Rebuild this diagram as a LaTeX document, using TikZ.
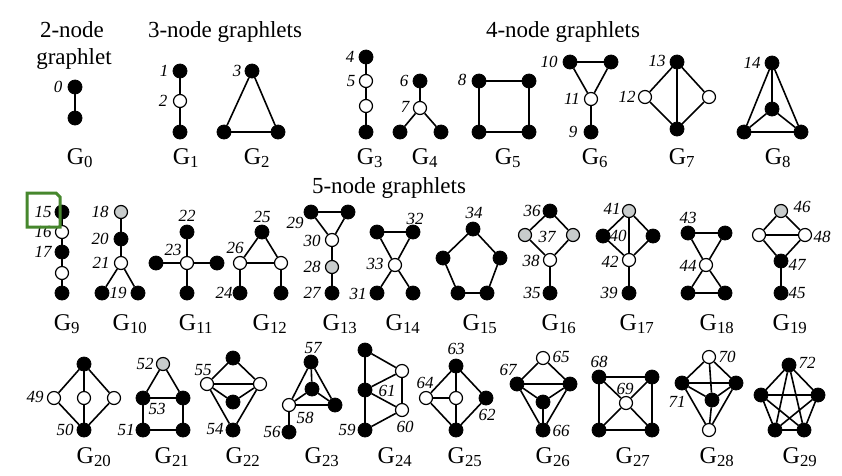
\documentclass[tikz,border=0pt]{standalone}
\usepackage{fontspec}
\setmainfont{Liberation Serif}
\definecolor{greyfill}{RGB}{200,204,204}
\definecolor{boxgreen}{RGB}{70,135,45}
\newcommand{\gsub}[1]{G\textsubscript{#1}}
\begin{document}
\begin{tikzpicture}[x=1pt,y=-1pt,
 vb/.style={circle, fill=black, draw=black, line width=0.8pt, minimum size=14pt, inner sep=0pt},
 vw/.style={circle, fill=white, draw=black, line width=1.2pt, minimum size=13pt, inner sep=0pt},
 vg/.style={circle, fill=greyfill, draw=black, line width=1.2pt, minimum size=13pt, inner sep=0pt},
 ed/.style={line width=1.6pt},
 lab/.style={font=\fontsize{17}{17}\selectfont\itshape, inner sep=0pt},
 glab/.style={font=\fontsize{24}{24}\selectfont, inner sep=0pt, anchor=base},
 ttl/.style={font=\fontsize{23}{23}\selectfont, inner sep=0pt, anchor=base}]
\useasboundingbox[fill=white] (0,0) rectangle (842,475);

% titles
\node[ttl] (t2a) at (72,37) {2-node};
\node[ttl] (t2b) at (74,64) {graphlet};
\node[ttl] (t3) at (225,37) {3-node graphlets};
\node[ttl] (t4) at (563,37) {4-node graphlets};
\node[ttl] (t5) at (389,193) {5-node graphlets};

% ---------- G0
\node[vb] (n0a) at (75,87) {}; \node[vb] (n0b) at (75,118) {};
\node[lab] (o0) at (58,87) {0};
% ---------- G1
\node[vb] (n1a) at (180,71) {}; \node[vw] (n1b) at (180,101) {}; \node[vb] (n1c) at (180,132) {};
\node[lab] (o1) at (164,71) {1}; \node[lab] (o2) at (163,101) {2};
% ---------- G2
\node[vb] (n2a) at (252,71) {}; \node[vb] (n2b) at (224,132) {}; \node[vb] (n2c) at (278,132) {};
\node[lab] (o3) at (237,71) {3};
% ---------- G3
\node[vb] (n3a) at (366,57) {}; \node[vw] (n3b) at (366,81) {}; \node[vw] (n3c) at (366,106) {}; \node[vb] (n3d) at (366,132) {};
\node[lab] (o4) at (350,57) {4}; \node[lab] (o5) at (351,81) {5};
% ---------- G4
\node[vb] (n4a) at (420,81) {}; \node[vw] (n4b) at (420,108) {}; \node[vb] (n4c) at (400,132) {}; \node[vb] (n4d) at (441,132) {};
\node[lab] (o6) at (404,81) {6}; \node[lab] (o7) at (405,107) {7};
% ---------- G5
\node[vb] (n5a) at (479,81) {}; \node[vb] (n5b) at (529,81) {}; \node[vb] (n5c) at (529,132) {}; \node[vb] (n5d) at (479,132) {};
\node[lab] (o8) at (462,80) {8};
% ---------- G6
\node[vb] (n6a) at (570,62) {}; \node[vb] (n6b) at (611,62) {}; \node[vw] (n6c) at (591,99) {}; \node[vb] (n6d) at (591,132) {};
\node[lab] (o10) at (549,62) {10}; \node[lab] (o11) at (572,99) {11}; \node[lab] (o9) at (573,132) {9};
% ---------- G7
\node[vb] (n7a) at (677,62) {}; \node[vw] (n7b) at (645,97) {}; \node[vw] (n7c) at (709,97) {}; \node[vb] (n7d) at (677,129) {};
\node[lab] (o13) at (657,61) {13}; \node[lab] (o12) at (627,97) {12};
% ---------- G8
\node[vb] (n8a) at (772,63) {}; \node[vb] (n8b) at (772,109) {}; \node[vb] (n8c) at (744,132) {}; \node[vb] (n8d) at (801,132) {};
\node[lab] (o14) at (752,63) {14};

% ---------- G9
\node[vb] (n9a) at (62,212) {}; \node[vw] (n9b) at (62,232) {}; \node[vb] (n9c) at (62,252) {}; \node[vw] (n9d) at (62,273) {}; \node[vb] (n9e) at (62,293) {};
\node[lab] (o15) at (43,212) {15}; \node[lab] (o16) at (43,232) {16}; \node[lab] (o17) at (43,252) {17};
% ---------- G10
\node[vg] (n10a) at (121,212) {}; \node[vb] (n10b) at (121,239) {}; \node[vw] (n10c) at (121,263) {}; \node[vb] (n10d) at (102,293) {}; \node[vb] (n10e) at (138,293) {};
\node[lab] (o18) at (100,212) {18}; \node[lab] (o20) at (100,239) {20}; \node[lab] (o21) at (101,263) {21}; \node[lab] (o19) at (118,293) {19};
% ---------- G11
\node[vb] (n11a) at (187,232) {}; \node[vw] (n11b) at (187,263) {}; \node[vb] (n11c) at (156,263) {}; \node[vb] (n11d) at (217,263) {}; \node[vb] (n11e) at (187,293) {};
\node[lab] (o22) at (187,216) {22}; \node[lab] (o23) at (173,250) {23};
% ---------- G12
\node[vb] (n12a) at (262,232) {}; \node[vw] (n12b) at (240,263) {}; \node[vw] (n12c) at (281,263) {}; \node[vb] (n12d) at (240,293) {}; \node[vb] (n12e) at (281,293) {};
\node[lab] (o25) at (262,217) {25}; \node[lab] (o26) at (235,248) {26}; \node[lab] (o24) at (224,293) {24};
% ---------- G13
\node[vb] (n13a) at (311,212) {}; \node[vb] (n13b) at (348,212) {}; \node[vw] (n13c) at (332,240) {}; \node[vg] (n13d) at (332,267) {}; \node[vb] (n13e) at (332,293) {};
\node[lab] (o29) at (295,223) {29}; \node[lab] (o30) at (312,241) {30}; \node[lab] (o28) at (312,267) {28}; \node[lab] (o27) at (312,293) {27};
% ---------- G14
\node[vb] (n14a) at (377,232) {}; \node[vb] (n14b) at (413,232) {}; \node[vw] (n14c) at (395,265) {}; \node[vb] (n14d) at (377,293) {}; \node[vb] (n14e) at (413,293) {};
\node[lab] (o32) at (415,219) {32}; \node[lab] (o33) at (375,264) {33}; \node[lab] (o31) at (358,294) {31};
% ---------- G15
\node[vb] (n15a) at (473,229) {}; \node[vb] (n15b) at (500,258) {}; \node[vb] (n15c) at (487,293) {}; \node[vb] (n15d) at (458,293) {}; \node[vb] (n15e) at (443,258) {};
\node[lab] (o34) at (474,213) {34};
% ---------- G16
\node[vb] (n16a) at (550,211) {}; \node[vg] (n16b) at (525,235) {}; \node[vg] (n16c) at (573,235) {}; \node[vw] (n16d) at (550,260) {}; \node[vb] (n16e) at (550,293) {};
\node[lab] (o36) at (532,211) {36}; \node[lab] (o37) at (547,237) {37}; \node[lab] (o38) at (531,261) {38}; \node[lab] (o35) at (532,293) {35};
% ---------- G17
\node[vg] (n17a) at (629,211) {}; \node[vb] (n17b) at (603,236) {}; \node[vb] (n17c) at (653,236) {}; \node[vw] (n17d) at (629,260) {}; \node[vb] (n17e) at (629,293) {};
\node[lab] (o41) at (612,209) {41}; \node[lab] (o40) at (618,236) {40}; \node[lab] (o42) at (610,262) {42}; \node[lab] (o39) at (609,293) {39};
% ---------- G18
\node[vb] (n18a) at (688,233) {}; \node[vb] (n18b) at (725,233) {}; \node[vw] (n18c) at (706,265) {}; \node[vb] (n18d) at (688,293) {}; \node[vb] (n18e) at (725,293) {};
\node[lab] (o43) at (688,218) {43}; \node[lab] (o44) at (688,266) {44};
% ---------- G19
\node[vg] (n19a) at (781,211) {}; \node[vw] (n19b) at (759,235) {}; \node[vw] (n19c) at (805,235) {}; \node[vb] (n19d) at (781,261) {}; \node[vb] (n19e) at (781,293) {};
\node[lab] (o46) at (802,207) {46}; \node[lab] (o48) at (822,237) {48}; \node[lab] (o47) at (797,265) {47}; \node[lab] (o45) at (797,293) {45};

% ---------- G20
\node[vb] (n20a) at (84,364) {}; \node[vw] (n20b) at (54,398) {}; \node[vw] (n20c) at (84,398) {}; \node[vw] (n20d) at (114,398) {}; \node[vb] (n20e) at (84,430) {};
\node[lab] (o49) at (35,397) {49}; \node[lab] (o50) at (65,430) {50};
% ---------- G21
\node[vg] (n21a) at (163,364) {}; \node[vb] (n21b) at (143,398) {}; \node[vb] (n21c) at (183,398) {}; \node[vb] (n21d) at (143,430) {}; \node[vb] (n21e) at (183,430) {};
\node[lab] (o52) at (145,364) {52}; \node[lab] (o53) at (157,409) {53}; \node[lab] (o51) at (126,430) {51};
% ---------- G22
\node[vb] (n22a) at (233,358) {}; \node[vw] (n22b) at (207,384) {}; \node[vw] (n22c) at (260,384) {}; \node[vb] (n22d) at (233,402) {}; \node[vb] (n22e) at (233,430) {};
\node[lab] (o55) at (203,370) {55}; \node[lab] (o54) at (215,429) {54};
% ---------- G23
\node[vb] (n23a) at (311,362) {}; \node[vb] (n23b) at (312,389) {}; \node[vw] (n23c) at (289,405) {}; \node[vb] (n23d) at (335,405) {}; \node[vb] (n23e) at (289,432) {};
\node[lab] (o57) at (313,348) {57}; \node[lab] (o58) at (305,418) {58}; \node[lab] (o56) at (272,432) {56};
% ---------- G24
\node[vb] (n24a) at (365,350) {}; \node[vb] (n24b) at (365,390) {}; \node[vb] (n24c) at (365,430) {}; \node[vw] (n24d) at (402,371) {}; \node[vw] (n24e) at (402,410) {};
\node[lab] (o61) at (387,391) {61}; \node[lab] (o59) at (347,430) {59}; \node[lab] (o60) at (405,427) {60};
% ---------- G25
\node[vb] (n25a) at (456,366) {}; \node[vw] (n25b) at (426,398) {}; \node[vw] (n25c) at (456,398) {}; \node[vb] (n25d) at (486,398) {}; \node[vb] (n25e) at (456,430) {};
\node[lab] (o63) at (456,349) {63}; \node[lab] (o64) at (425,383) {64}; \node[lab] (o62) at (487,415) {62};
% ---------- G26
\node[vw] (n26a) at (543,358) {}; \node[vb] (n26b) at (517,384) {}; \node[vb] (n26c) at (570,384) {}; \node[vb] (n26d) at (543,402) {}; \node[vb] (n26e) at (543,430) {};
\node[lab] (o65) at (561,357) {65}; \node[lab] (o67) at (508,370) {67}; \node[lab] (o66) at (561,431) {66};
% ---------- G27
\node[vb] (n27a) at (599,377) {}; \node[vb] (n27b) at (652,377) {}; \node[vb] (n27c) at (652,430) {}; \node[vb] (n27d) at (599,430) {}; \node[vw] (n27e) at (626,403) {};
\node[lab] (o68) at (599,362) {68}; \node[lab] (o69) at (625,389) {69};
% ---------- G28
\node[vw] (n28a) at (709,357) {}; \node[vb] (n28b) at (682,383) {}; \node[vb] (n28c) at (736,383) {}; \node[vb] (n28d) at (712,400) {}; \node[vw] (n28e) at (709,430) {};
\node[lab] (o70) at (727,357) {70}; \node[lab] (o71) at (677,402) {71};
% ---------- G29
\node[vb] (n29a) at (789,365) {}; \node[vb] (n29b) at (818,395) {}; \node[vb] (n29c) at (804,430) {}; \node[vb] (n29d) at (775,430) {}; \node[vb] (n29e) at (761,395) {};
\node[lab] (o72) at (807,363) {72};

% edges
\foreach \a/\b in {n0a/n0b, n1a/n1b, n1b/n1c, n2a/n2b, n2b/n2c, n2c/n2a,
 n3a/n3b, n3b/n3c, n3c/n3d, n4a/n4b, n4b/n4c, n4b/n4d,
 n5a/n5b, n5b/n5c, n5c/n5d, n5d/n5a,
 n6a/n6b, n6a/n6c, n6b/n6c, n6c/n6d,
 n7a/n7b, n7a/n7c, n7a/n7d, n7b/n7d, n7c/n7d,
 n8a/n8b, n8a/n8c, n8a/n8d, n8b/n8c, n8b/n8d, n8c/n8d,
 n9a/n9b, n9b/n9c, n9c/n9d, n9d/n9e,
 n10a/n10b, n10b/n10c, n10c/n10d, n10c/n10e,
 n11a/n11b, n11b/n11c, n11b/n11d, n11b/n11e,
 n12a/n12b, n12a/n12c, n12b/n12c, n12b/n12d, n12c/n12e,
 n13a/n13b, n13a/n13c, n13b/n13c, n13c/n13d, n13d/n13e,
 n14a/n14b, n14a/n14c, n14b/n14c, n14c/n14d, n14c/n14e,
 n15a/n15b, n15b/n15c, n15c/n15d, n15d/n15e, n15e/n15a,
 n16a/n16b, n16a/n16c, n16b/n16d, n16c/n16d, n16d/n16e,
 n17a/n17b, n17a/n17c, n17a/n17d, n17b/n17d, n17c/n17d, n17d/n17e,
 n18a/n18b, n18a/n18c, n18b/n18c, n18c/n18d, n18c/n18e, n18d/n18e,
 n19a/n19b, n19a/n19c, n19b/n19c, n19b/n19d, n19c/n19d, n19d/n19e,
 n20a/n20b, n20a/n20c, n20a/n20d, n20b/n20e, n20c/n20e, n20d/n20e,
 n21a/n21b, n21a/n21c, n21b/n21c, n21b/n21d, n21c/n21e, n21d/n21e,
 n22a/n22b, n22a/n22c, n22b/n22c, n22b/n22d, n22c/n22d, n22b/n22e, n22c/n22e,
 n23a/n23b, n23a/n23c, n23a/n23d, n23b/n23c, n23b/n23d, n23c/n23d, n23c/n23e,
 n24a/n24b, n24b/n24c, n24a/n24d, n24b/n24d, n24b/n24e, n24d/n24e, n24c/n24e,
 n25a/n25b, n25a/n25c, n25a/n25d, n25b/n25c, n25c/n25e, n25b/n25e, n25d/n25e,
 n26a/n26b, n26a/n26c, n26b/n26c, n26b/n26d, n26c/n26d, n26b/n26e, n26c/n26e, n26d/n26e,
 n27a/n27b, n27b/n27c, n27c/n27d, n27d/n27a, n27a/n27e, n27b/n27e, n27c/n27e, n27d/n27e,
 n28a/n28b, n28a/n28c, n28a/n28d, n28b/n28c, n28b/n28d, n28c/n28d, n28b/n28e, n28c/n28e, n28d/n28e,
 n29a/n29b, n29a/n29c, n29a/n29d, n29a/n29e, n29b/n29c, n29b/n29d, n29b/n29e, n29c/n29d, n29c/n29e, n29d/n29e}
 \draw[ed] (\a) -- (\b);

% graphlet names
\node[glab] (g0) at (80,164) {\gsub{0}};
\node[glab] (g1) at (186,164) {\gsub{1}};
\node[glab] (g2) at (257,164) {\gsub{2}};
\node[glab] (g3) at (370,164) {\gsub{3}};
\node[glab] (g4) at (425,164) {\gsub{4}};
\node[glab] (g5) at (508,164) {\gsub{5}};
\node[glab] (g6) at (595,164) {\gsub{6}};
\node[glab] (g7) at (682,164) {\gsub{7}};
\node[glab] (g8) at (778,164) {\gsub{8}};
\node[glab] (g9) at (67,330) {\gsub{9}};
\node[glab] (g10) at (130,330) {\gsub{10}};
\node[glab] (g11) at (196,330) {\gsub{11}};
\node[glab] (g12) at (270,330) {\gsub{12}};
\node[glab] (g13) at (340,330) {\gsub{13}};
\node[glab] (g14) at (403,330) {\gsub{14}};
\node[glab] (g15) at (480,330) {\gsub{15}};
\node[glab] (g16) at (559,330) {\gsub{16}};
\node[glab] (g17) at (637,330) {\gsub{17}};
\node[glab] (g18) at (717,330) {\gsub{18}};
\node[glab] (g19) at (790,330) {\gsub{19}};
\node[glab] (g20) at (94,463) {\gsub{20}};
\node[glab] (g21) at (172,463) {\gsub{21}};
\node[glab] (g22) at (243,463) {\gsub{22}};
\node[glab] (g23) at (322,463) {\gsub{23}};
\node[glab] (g24) at (395,463) {\gsub{24}};
\node[glab] (g25) at (465,463) {\gsub{25}};
\node[glab] (g26) at (553,463) {\gsub{26}};
\node[glab] (g27) at (633,463) {\gsub{27}};
\node[glab] (g28) at (717,463) {\gsub{28}};
\node[glab] (g29) at (800,463) {\gsub{29}};

% highlight box
\draw[boxgreen, line width=3pt] (27,193) -- (56,193) -- (60,197) -- (60,227) -- (27,227) -- cycle;
\end{tikzpicture}
\end{document}
